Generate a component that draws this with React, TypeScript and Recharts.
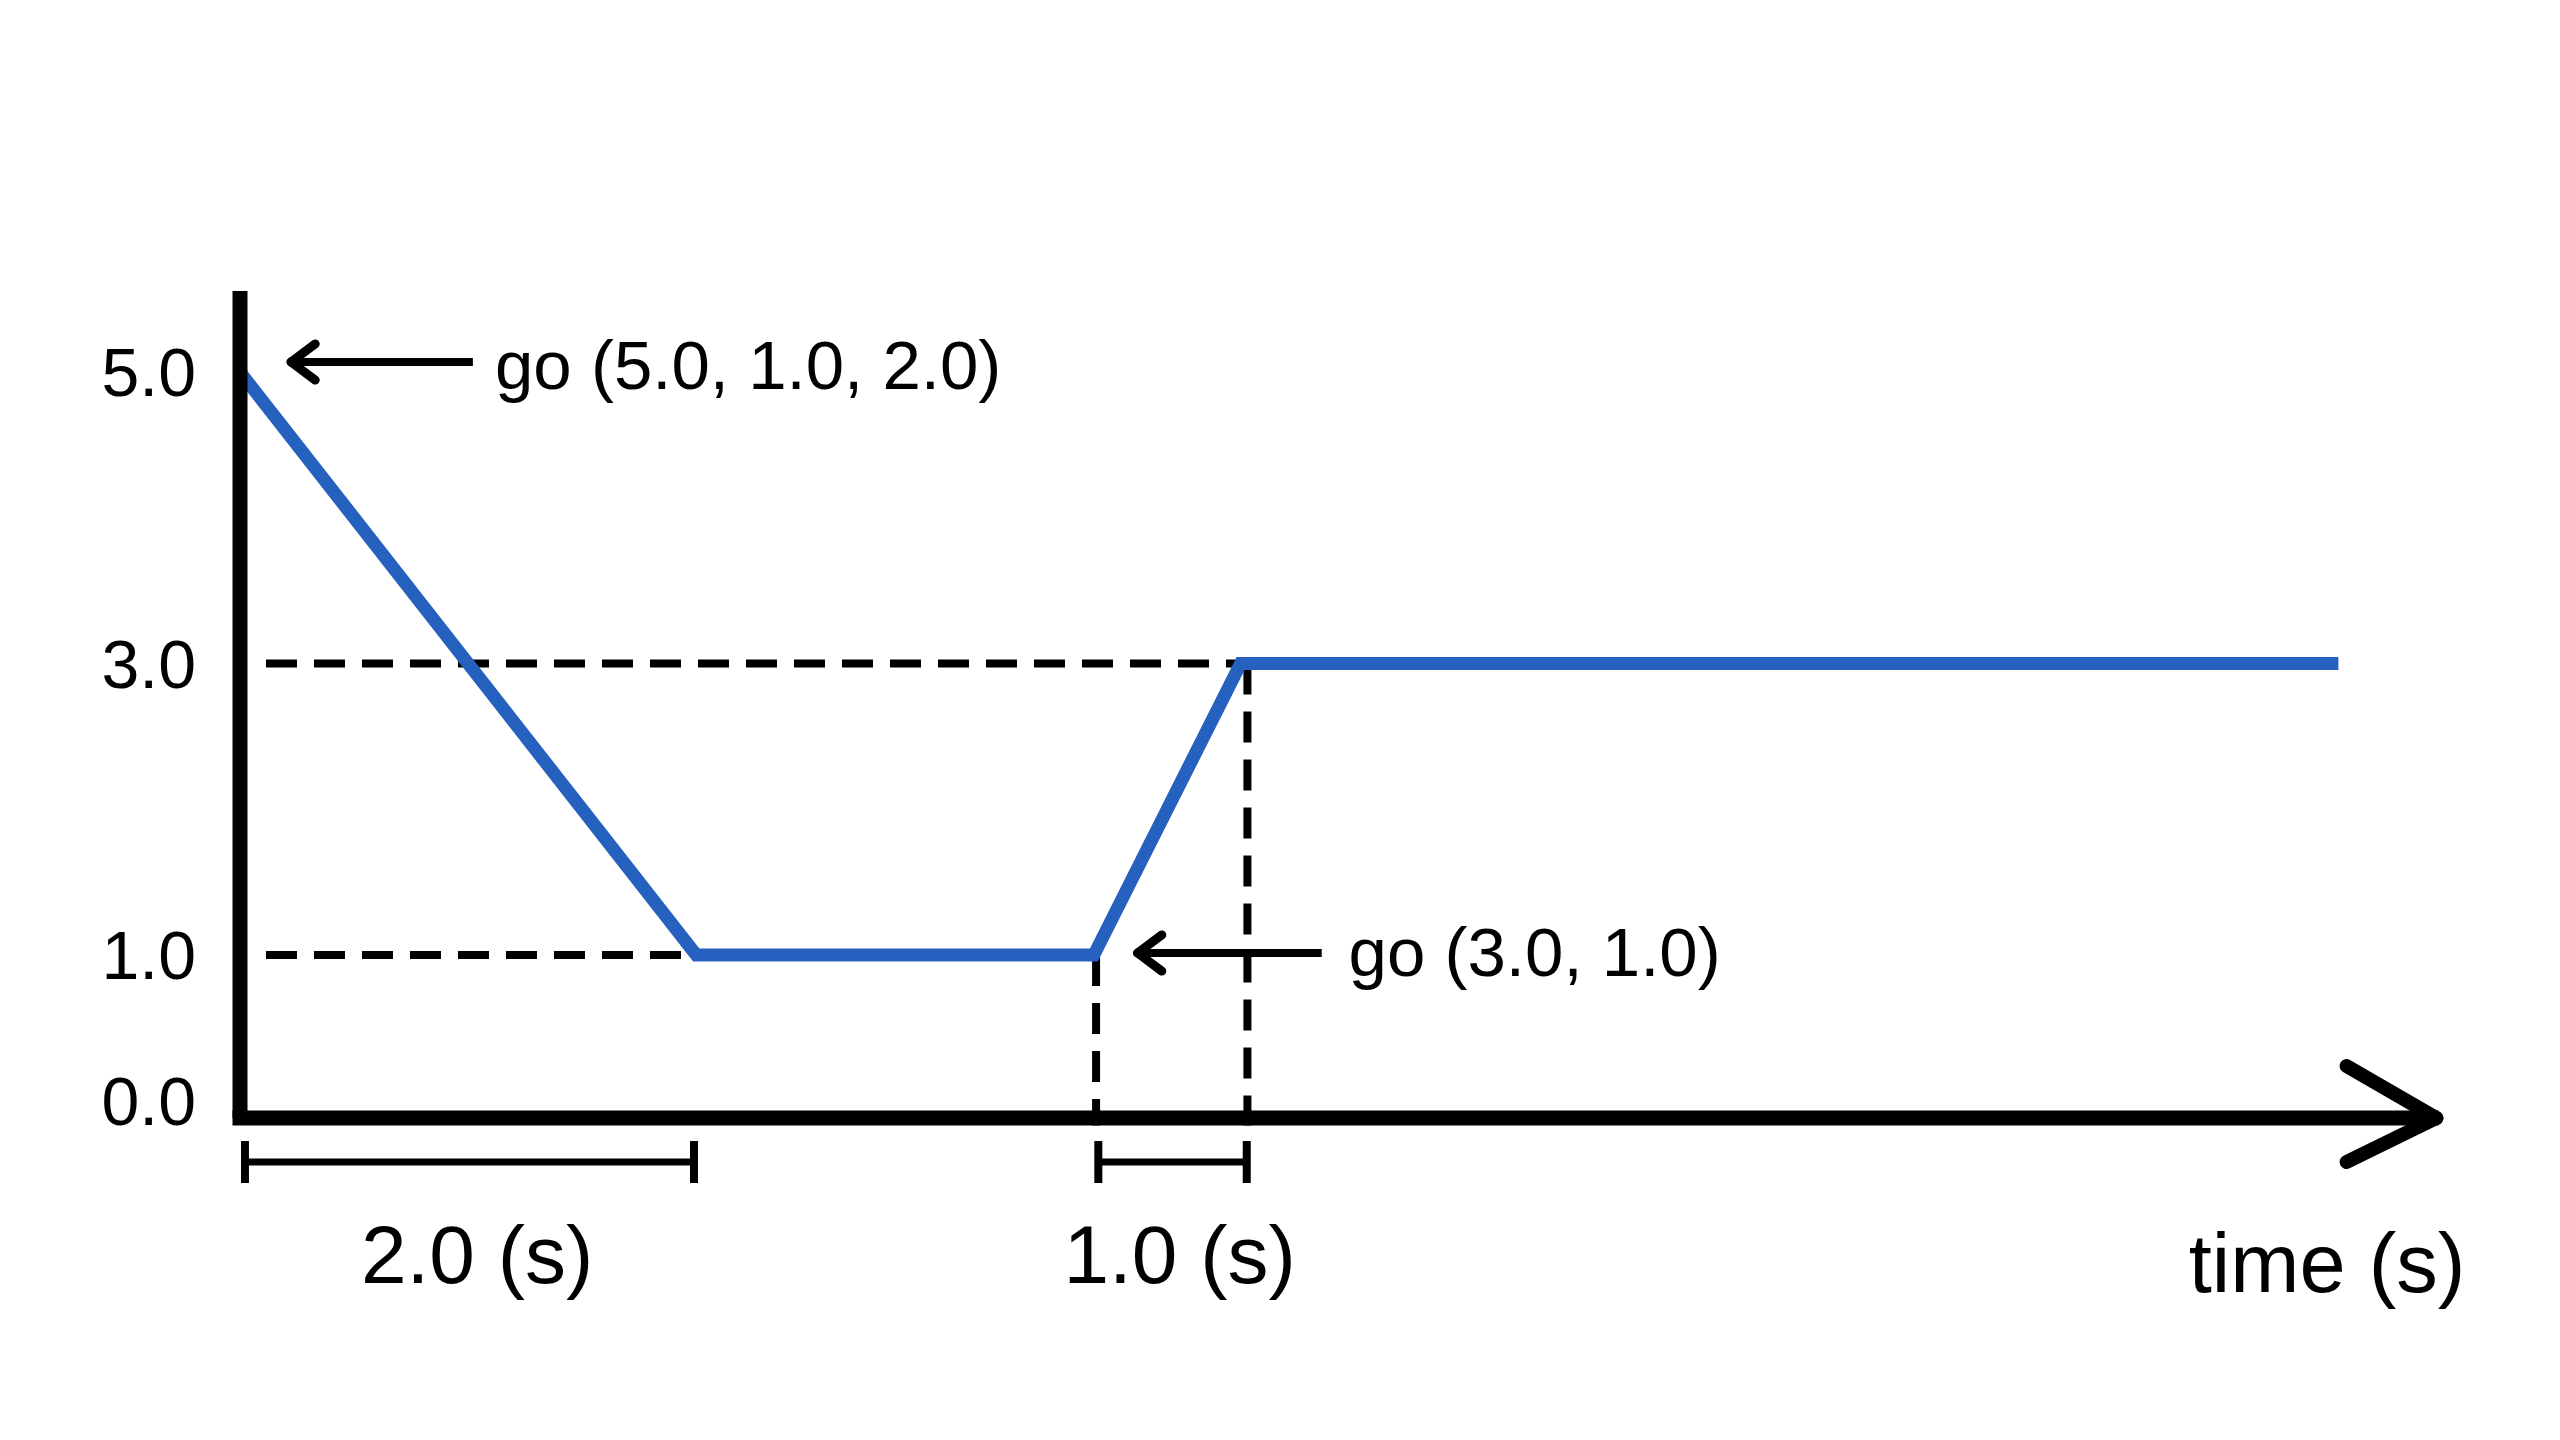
import React from 'react'
import { LineChart, Line, XAxis, YAxis, ReferenceLine, ReferenceDot } from 'recharts'

// blue trace (time axis is not to scale)
const times = [0, 2.02, 3.78, 4.43, 9.29]
const values = [5, 1, 1, 3, 3]

const yTicks = [0, 1, 3, 5]

// dashed guide lines: [t1, v1, t2, v2]
const guides = [
  [0.115, 3, 4.43, 3],
  [0.115, 1, 2.02, 1],
  [3.79, 1, 3.79, -0.17],
  [4.46, 3, 4.46, -0.17],
]

// interval brackets under the time axis
const spanStarts = [0.022, 3.8]
const spanEnds = [2.01, 4.457]
const spanLabels = ['2.0 (s)', '1.0 (s)']
const spanLabelTimes = [1.05, 4.16]

// "go" annotations
const notes = ['go (5.0, 1.0, 2.0)', 'go (3.0, 1.0)']
const noteTextT = [1.129, 4.908]
const noteTextV = [5.055, 1.021]
const noteArrowFrom = [1.031, 4.789]
const noteArrowTip = [0.226, 3.974]
const noteArrowV = [5.069, 1.014]

const data = times.map((t, i) => ({ t, v: values[i] }))

const BLUE = '#2661bf'
const FONT = '"Liberation Sans", Arial, Helvetica, sans-serif'

const seg = (key: string, x1: number, y1: number, x2: number, y2: number, width: number, extra: any = {}) => (
  <ReferenceLine
    key={key}
    segment={[{ x: x1, y: y1 }, { x: x2, y: y2 }]}
    stroke="#000"
    strokeWidth={width}
    ifOverflow="visible"
    {...extra}
  />
)

export default function App() {
  const bracketV = -0.42
  const tickTop = -0.276
  const tickBottom = -0.564

  return (
    <div style={{ position: 'absolute', left: 0, top: 0, width: 2560, height: 1440, background: '#fff', fontFamily: FONT }}>
      <LineChart width={2560} height={1440} data={data} margin={{ top: 291, right: 129, bottom: 292, left: 40 }}>
        <XAxis
          dataKey="t"
          type="number"
          domain={[0, 9.7]}
          tick={false}
          tickLine={false}
          height={30}
          axisLine={{ stroke: '#000', strokeWidth: 15, strokeLinecap: 'square' }}
        />
        <YAxis
          type="number"
          domain={[-0.118, 5.556]}
          ticks={yTicks}
          width={200}
          tickLine={false}
          tickSize={0}
          tickMargin={44}
          tickFormatter={(v: number) => v.toFixed(1)}
          tick={{ fill: '#000', fontSize: 68, fontFamily: FONT }}
          axisLine={{ stroke: '#000', strokeWidth: 15 }}
        />

        {guides.map((g, i) =>
          seg(`guide-${i}`, g[0], g[1], g[2], g[3], 8, { strokeDasharray: '31 17' })
        )}

        <Line
          type="linear"
          dataKey="v"
          stroke={BLUE}
          strokeWidth={13}
          strokeLinejoin="miter"
          dot={false}
          activeDot={false}
          isAnimationActive={false}
        />

        {spanStarts.map((s, i) => seg(`span-${i}`, s, bracketV, spanEnds[i], bracketV, 7))}
        {spanStarts.map((s, i) => seg(`span-l-${i}`, s, tickTop, s, tickBottom, 8))}
        {spanEnds.map((e, i) => seg(`span-r-${i}`, e, tickTop, e, tickBottom, 8))}

        {/* time axis arrow head */}
        {seg('ax-a', 9.326, 0.239, 9.724, -0.118, 14, { strokeLinecap: 'round' })}
        {seg('ax-b', 9.326, -0.42, 9.724, -0.118, 14, { strokeLinecap: 'round' })}

        {/* annotation arrows */}
        {noteArrowTip.map((tip, i) => seg(`note-shaft-${i}`, noteArrowFrom[i], noteArrowV[i], tip, noteArrowV[i], 8))}
        {noteArrowTip.map((tip, i) =>
          seg(`note-up-${i}`, tip, noteArrowV[i], tip + 0.107, noteArrowV[i] + 0.124, 9, { strokeLinecap: 'round' })
        )}
        {noteArrowTip.map((tip, i) =>
          seg(`note-dn-${i}`, tip, noteArrowV[i], tip + 0.107, noteArrowV[i] - 0.124, 9, { strokeLinecap: 'round' })
        )}

        {notes.map((n, i) => (
          <ReferenceDot
            key={`note-${i}`}
            x={noteTextT[i]}
            y={noteTextV[i]}
            r={0}
            fill="none"
            stroke="none"
            ifOverflow="visible"
            label={{ value: n, position: 'right', offset: 0, fontSize: 69, fill: '#000', fontFamily: FONT }}
          />
        ))}

        {spanLabels.map((l, i) => (
          <ReferenceDot
            key={`span-label-${i}`}
            x={spanLabelTimes[i]}
            y={-1.05}
            r={0}
            fill="none"
            stroke="none"
            ifOverflow="visible"
            label={{ value: l, position: 'center', fontSize: 82, fill: '#000', fontFamily: FONT }}
          />
        ))}

        <ReferenceDot
          x={9.24}
          y={-1.11}
          r={0}
          fill="none"
          stroke="none"
          ifOverflow="visible"
          label={{ value: 'time (s)', position: 'center', fontSize: 83, fill: '#000', fontFamily: FONT }}
        />
      </LineChart>
    </div>
  )
}
